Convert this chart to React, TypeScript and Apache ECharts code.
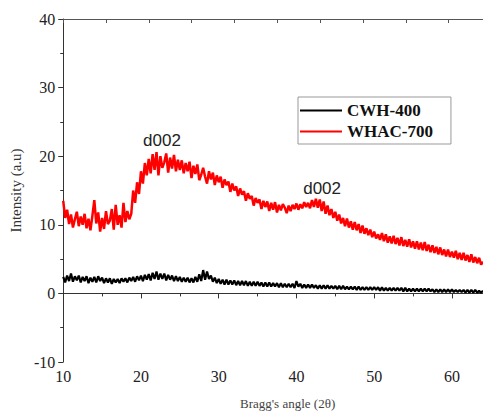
import React, { useEffect, useRef } from "react";
import * as echarts from "echarts";

// Bragg angle grid: 10 .. 64 step 0.25
const X_START = 10;
const X_STEP = 0.25;

const whac700 = [
  13.5, 11.0, 12.2, 10.1,
  11.5, 9.6, 10.8, 11.9,
  9.8, 11.2, 10.0, 11.6,
  9.5, 10.9, 9.2, 11.3,
  13.6, 10.2, 11.8, 9.0,
  11.0, 9.4, 12.0, 10.1,
  10.6, 12.3, 9.3, 12.9,
  10.0, 11.4, 9.6, 13.2,
  10.4, 12.0, 10.8, 11.6,
  15.0, 13.2, 16.2, 14.5,
  17.8, 16.0, 19.0, 17.2,
  19.6, 17.5, 20.3, 18.0,
  20.6, 17.2, 20.0, 18.3,
  19.1, 20.4, 17.6, 19.8,
  18.2, 20.2, 17.8, 19.5,
  18.0, 19.4, 17.5, 19.0,
  17.8, 19.2, 16.8, 18.6,
  17.4, 18.8, 16.5, 17.3,
  18.3, 17.0, 16.0, 17.8,
  16.6, 17.6, 15.8, 17.2,
  16.2, 17.0, 15.4, 16.6,
  15.8, 16.3, 14.8, 16.0,
  15.0, 15.6, 14.2, 15.3,
  14.4, 14.9, 13.5, 14.6,
  13.8, 14.2, 12.8, 13.9,
  13.2, 13.7, 12.3, 13.5,
  12.6, 13.4, 12.0, 13.2,
  12.2, 13.3, 11.8, 12.9,
  12.1, 13.0, 12.5, 11.7,
  12.8, 12.0, 12.9, 12.3,
  13.1, 12.2, 13.0, 12.4,
  13.3, 12.6, 13.2, 12.4,
  13.6, 12.6, 13.8, 12.5,
  13.7, 12.0, 13.4, 11.6,
  12.8, 11.4, 12.3, 11.0,
  11.9, 10.6, 11.5, 10.2,
  11.0, 9.8, 10.9, 9.6,
  10.5, 9.3, 10.4, 9.2,
  10.1, 8.8, 9.9, 8.7,
  9.5, 8.5, 9.3, 8.2,
  9.0, 8.0, 8.6, 7.8,
  8.8, 7.6, 8.6, 7.4,
  8.3, 7.3, 8.4, 7.2,
  8.1, 7.0, 8.2, 6.9,
  7.8, 6.8, 7.9, 6.7,
  7.6, 6.5, 7.6, 6.4,
  7.4, 6.3, 7.5, 6.2,
  7.1, 6.0, 7.0, 5.9,
  6.8, 5.7, 6.7, 5.6,
  6.4, 5.4, 6.4, 5.3,
  6.1, 5.2, 6.2, 5.0,
  5.9, 4.9, 5.9, 4.8,
  5.6, 4.6, 5.7, 4.5,
  5.3, 4.4, 5.2, 4.2,
  4.6,
];

const cwh400 = [
  2.4, 1.6, 2.6, 1.8,
  2.9, 1.7, 2.5, 1.9,
  2.6, 1.6, 2.4, 1.8,
  2.5, 1.5, 2.3, 1.7,
  2.4, 1.6, 2.5, 1.8,
  2.3, 1.5, 2.2, 1.6,
  2.2, 1.4, 2.1, 1.6,
  2.1, 1.5, 2.2, 1.7,
  2.2, 1.6, 2.3, 1.8,
  2.4, 1.7, 2.5, 1.9,
  2.6, 1.8, 2.7, 2.0,
  2.8, 1.9, 3.0, 2.1,
  3.2, 2.0, 2.9, 2.1,
  2.9, 1.9, 2.7, 2.0,
  2.6, 1.8, 2.5, 1.8,
  2.4, 1.7, 2.3, 1.7,
  2.3, 1.6, 2.2, 1.6,
  2.4, 1.7, 2.8, 1.8,
  3.4, 2.0, 3.2, 2.1,
  2.6, 1.7, 2.3, 1.5,
  2.1, 1.4, 2.0, 1.3,
  2.0, 1.3, 1.9, 1.3,
  1.9, 1.2, 1.8, 1.2,
  1.8, 1.2, 1.8, 1.1,
  1.7, 1.1, 1.7, 1.1,
  1.7, 1.1, 1.6, 1.0,
  1.6, 1.0, 1.6, 1.0,
  1.5, 1.0, 1.5, 0.9,
  1.5, 0.9, 1.4, 0.9,
  1.4, 0.9, 1.4, 0.8,
  1.8, 1.0, 1.4, 0.8,
  1.3, 0.8, 1.3, 0.8,
  1.3, 0.8, 1.2, 0.7,
  1.2, 0.7, 1.2, 0.7,
  1.2, 0.7, 1.1, 0.7,
  1.1, 0.6, 1.1, 0.6,
  1.1, 0.6, 1.0, 0.6,
  1.0, 0.6, 1.0, 0.5,
  1.0, 0.5, 0.9, 0.5,
  0.9, 0.5, 0.9, 0.5,
  0.9, 0.5, 0.9, 0.4,
  0.9, 0.4, 0.8, 0.4,
  0.8, 0.4, 0.8, 0.4,
  0.8, 0.4, 0.8, 0.3,
  0.8, 0.3, 0.7, 0.3,
  0.7, 0.3, 0.7, 0.3,
  0.7, 0.3, 0.7, 0.3,
  0.7, 0.3, 0.6, 0.2,
  0.6, 0.2, 0.6, 0.2,
  0.6, 0.2, 0.6, 0.2,
  0.6, 0.2, 0.5, 0.2,
  0.5, 0.2, 0.5, 0.1,
  0.5, 0.1, 0.5, 0.1,
  0.5, 0.1, 0.4, 0.1,
  0.4,
];

const seriesNames = ["CWH-400", "WHAC-700"];
const annotations = [
  { label: "d002", x: 22.7, y: 22.3 },
  { label: "d002", x: 43.3, y: 15.3 },
];

const toPairs = (vals: number[]) => vals.map((v, i) => [X_START + i * X_STEP, v]);

const SERIF = "'Liberation Serif', 'DejaVu Serif', serif";
const SANS = "'Liberation Sans', Arial, sans-serif";

export default function App() {
  const ref = useRef<HTMLDivElement>(null);
  useEffect(() => {
    if (!ref.current) return;
    const chart = echarts.init(ref.current, null, { renderer: "svg" });
    chart.setOption({
      animation: false,
      backgroundColor: "#fff",
      grid: { left: 63, top: 19, right: 0, bottom: 52, containLabel: false },
      legend: {
        data: seriesNames,
        orient: "vertical",
        left: 298,
        top: 97,
        padding: [5, 18, 4, 2],
        itemGap: 4,
        itemWidth: 42,
        itemHeight: 2,
        icon: "rect",
        borderColor: "#999",
        borderWidth: 1,
        textStyle: { fontFamily: SERIF, fontWeight: "bold", fontSize: 17, color: "#111" },
      },
      xAxis: [
        {
          type: "value",
          min: 10,
          max: 64,
          interval: 10,
          position: "bottom",
          axisLine: { show: true, lineStyle: { color: "#333", width: 1 } },
          axisTick: { show: true, inside: false, length: 5, lineStyle: { color: "#333" } },
          minorTick: { show: true, splitNumber: 2, length: 3, lineStyle: { color: "#333" } },
          splitLine: { show: false },
          axisLabel: {
            margin: 6,
            fontFamily: SERIF,
            fontSize: 16,
            color: "#222",
            showMaxLabel: false,
            formatter: (v: number) => (v % 10 === 0 ? String(v) : ""),
          },
        },
        {
          type: "value",
          min: 0,
          max: 9.8,
          interval: 1,
          position: "top",
          axisLine: { show: true, onZero: false, lineStyle: { color: "#555", width: 1 } },
          axisTick: { show: true, inside: true, length: 4, lineStyle: { color: "#555" } },
          axisLabel: { show: false },
          splitLine: { show: false },
        },
      ],
      yAxis: {
        type: "value",
        min: -10,
        max: 40,
        interval: 10,
        name: "Intensity (a.u)",
        nameLocation: "middle",
        nameGap: 33,
        nameTextStyle: { fontFamily: SERIF, fontSize: 15, color: "#333" },
        axisLine: { show: true, lineStyle: { color: "#333", width: 1 } },
        axisTick: { show: true, inside: false, length: 5, lineStyle: { color: "#333" } },
        minorTick: { show: true, splitNumber: 2, length: 3, lineStyle: { color: "#333" } },
        splitLine: { show: false },
        axisLabel: { margin: 8, fontFamily: SERIF, fontSize: 16, color: "#222" },
      },
      graphic: [
        {
          type: "text",
          left: 240,
          top: 397,
          style: {
            text: "Bragg's angle (2θ)",
            font: `13px ${SERIF}`,
            fill: "#444",
          },
        },
      ],
      series: [
        {
          name: seriesNames[0],
          type: "line",
          data: toPairs(cwh400),
          showSymbol: false,
          symbol: "none",
          lineStyle: { color: "#000", width: 2.2 },
          itemStyle: { color: "#000" },
        },
        {
          name: seriesNames[1],
          type: "line",
          data: toPairs(whac700),
          showSymbol: false,
          symbol: "none",
          lineStyle: { color: "#ff0000", width: 2.5 },
          itemStyle: { color: "#ff0000" },
          markPoint: {
            symbol: "circle",
            symbolSize: 1,
            itemStyle: { color: "rgba(0,0,0,0)" },
            label: {
              show: true,
              position: "inside",
              fontFamily: SANS,
              fontSize: 17,
              color: "#222",
              formatter: (p: any) => p.name,
            },
            data: annotations.map((a) => ({ name: a.label, coord: [a.x, a.y] })),
          },
        },
      ],
    });
    return () => chart.dispose();
  }, []);
  return <div ref={ref} style={{ width: 483, height: 414, position: "absolute", left: 0, top: 0 }} />;
}
